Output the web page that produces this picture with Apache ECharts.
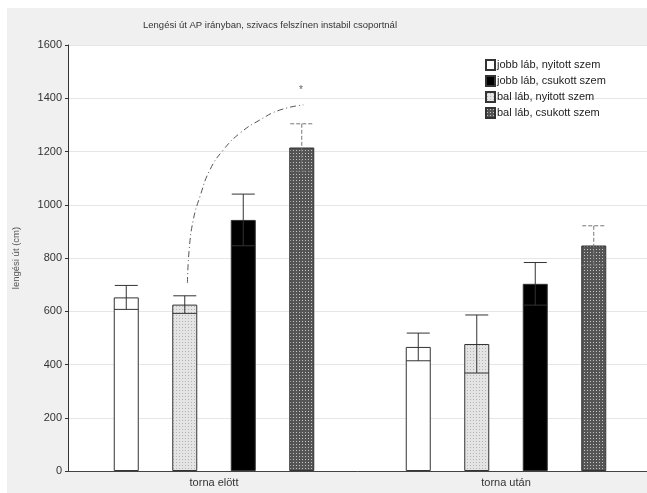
<!DOCTYPE html>
<html>
<head>
<meta charset="utf-8">
<script src="https://cdn.jsdelivr.net/npm/echarts@6/dist/echarts.min.js"></script>
<style>
html, body { margin: 0; padding: 0; background: #fff; }
#chart { position: absolute; left: 7px; top: 8px; width: 640px; height: 485px; }
</style>
</head>
<body>
<div id="chart"></div>
<script>
var categories = ['torna elött', 'torna után'];
var legendNames = ['jobb láb, nyitott szem', 'jobb láb, csukott szem', 'bal láb, nyitott szem', 'bal láb, csukott szem'];
var jobbNyitott = [652, 466];
var jobbCsukott = [943, 703];
var balNyitott = [625, 477];
var balCsukott = [1215, 847];
var sdJobbNyitott = [45, 52];
var sdJobbCsukott = [97, 80];
var sdBalNyitott = [33, 109];
var sdBalCsukott = [89, 74];
var yTicks = [0, 200, 400, 600, 800, 1000, 1200, 1400, 1600];
// dash-dot arc (significance mark), x in category units
var arcX = [0.409, 0.415, 0.429, 0.452, 0.486, 0.532, 0.589, 0.658, 0.726, 0.806];
var arcY = [706, 831, 943, 1031, 1131, 1206, 1269, 1319, 1356, 1375];
var starPoint = [0.798, 1431];

function makePattern(bg, fg) {
    var c = document.createElement('canvas');
    c.width = 3;
    c.height = 3;
    var ctx = c.getContext('2d');
    ctx.fillStyle = bg;
    ctx.fillRect(0, 0, 3, 3);
    ctx.fillStyle = fg;
    ctx.fillRect(1, 1, 1, 1);
    return { image: c, repeat: 'repeat' };
}

var lightPattern = makePattern('#e4e4e4', '#b4b4b4');
var darkPattern = makePattern('#555555', '#c4c4c4');

// bar order in the plot: white, dotted, black, dark
var barNames = [legendNames[0], legendNames[2], legendNames[1], legendNames[3]];
var means = [jobbNyitott, balNyitott, jobbCsukott, balCsukott];
var sds = [sdJobbNyitott, sdBalNyitott, sdJobbCsukott, sdBalCsukott];
var fills = ['#ffffff', lightPattern, '#000000', darkPattern];
var barStep = 58.5;

var chart = echarts.init(document.getElementById('chart'));

var series = [];
for (var i = 0; i < 4; i++) {
    series.push({
        name: barNames[i],
        type: 'bar',
        data: means[i],
        barWidth: 25,
        barGap: '134%',
        itemStyle: { color: fills[i], borderColor: '#333', borderWidth: 1 },
        z: 2
    });
}

function errorData() {
    var out = [];
    for (var s = 0; s < 4; s++) {
        for (var c = 0; c < categories.length; c++) {
            out.push([c, means[s][c], sds[s][c], s]);
        }
    }
    return out;
}

series.push({
    type: 'custom',
    data: errorData(),
    z: 5,
    silent: true,
    renderItem: function (params, api) {
        var c = api.value(0), m = api.value(1), sd = api.value(2), s = api.value(3);
        var off = (s - 1.5) * barStep;
        var top = api.coord([c, m + sd]);
        var bot = api.coord([c, m - sd]);
        var x = top[0] + off;
        var st = { stroke: s === 3 ? '#777' : '#333', lineWidth: 1, lineDash: s === 3 ? [4, 2] : null };
        return {
            type: 'group',
            children: [
                { type: 'line', shape: { x1: x, y1: top[1], x2: x, y2: bot[1] }, style: st },
                { type: 'line', shape: { x1: x - 11.5, y1: top[1], x2: x + 11.5, y2: top[1] }, style: st },
                { type: 'line', shape: { x1: x - 12, y1: bot[1], x2: x + 12, y2: bot[1] }, style: st }
            ]
        };
    }
});

var arcData = [];
for (var k = 0; k < arcX.length; k++) arcData.push([arcX[k], arcY[k]]);

series.push({
    type: 'line',
    xAxisIndex: 1,
    data: arcData,
    smooth: true,
    symbol: 'none',
    silent: true,
    lineStyle: { color: '#555', width: 1, type: [6, 3, 1, 3] },
    z: 6
});

series.push({
    type: 'scatter',
    xAxisIndex: 1,
    data: [starPoint],
    symbolSize: 0,
    silent: true,
    label: { show: true, formatter: '*', color: '#333', fontSize: 10, fontFamily: 'Liberation Sans' }
});

var option = {
    backgroundColor: '#f0f0f0',
    animation: false,
    textStyle: { fontFamily: 'Liberation Sans' },
    title: {
        text: 'Lengési út AP irányban, szivacs felszínen instabil csoportnál',
        left: 136,
        top: 12,
        padding: 0,
        textStyle: { fontSize: 9.5, fontWeight: 'normal', color: '#333', fontFamily: 'Liberation Sans' }
    },
    legend: {
        orient: 'vertical',
        left: 478,
        top: 51,
        padding: 0,
        itemWidth: 9,
        itemHeight: 10,
        itemGap: 4,
        icon: 'rect',
        data: legendNames,
        textStyle: { fontSize: 11, color: '#222', fontFamily: 'Liberation Sans', padding: [0, 0, 0, -3] }
    },
    grid: {
        left: 61,
        top: 37,
        width: 584,
        height: 426,
        outerBoundsMode: 'none',
        show: true,
        backgroundColor: '#ffffff',
        borderWidth: 0
    },
    xAxis: [{
        type: 'category',
        data: categories,
        axisLine: { lineStyle: { color: '#444' } },
        axisTick: { alignWithLabel: true, inside: true, length: 3, lineStyle: { color: '#444' } },
        axisLabel: { fontSize: 11, color: '#333', margin: 6 }
    }, {
        type: 'value',
        min: 0,
        max: 2,
        show: false
    }],
    yAxis: {
        type: 'value',
        min: yTicks[0],
        max: yTicks[yTicks.length - 1],
        interval: 200,
        name: 'lengési út (cm)',
        nameLocation: 'middle',
        nameGap: 47,
        nameTextStyle: { fontSize: 9.5, color: '#555' },
        axisLine: { show: true, lineStyle: { color: '#333' } },
        axisTick: { show: true, length: 3, lineStyle: { color: '#333' } },
        axisLabel: { fontSize: 11, color: '#333', margin: 6, formatter: function (v) { return String(v); } },
        splitLine: { lineStyle: { color: '#e6e6e6' } }
    },
    series: series
};

chart.setOption(option);
window.addEventListener('resize', chart.resize);
</script>
</body>
</html>
